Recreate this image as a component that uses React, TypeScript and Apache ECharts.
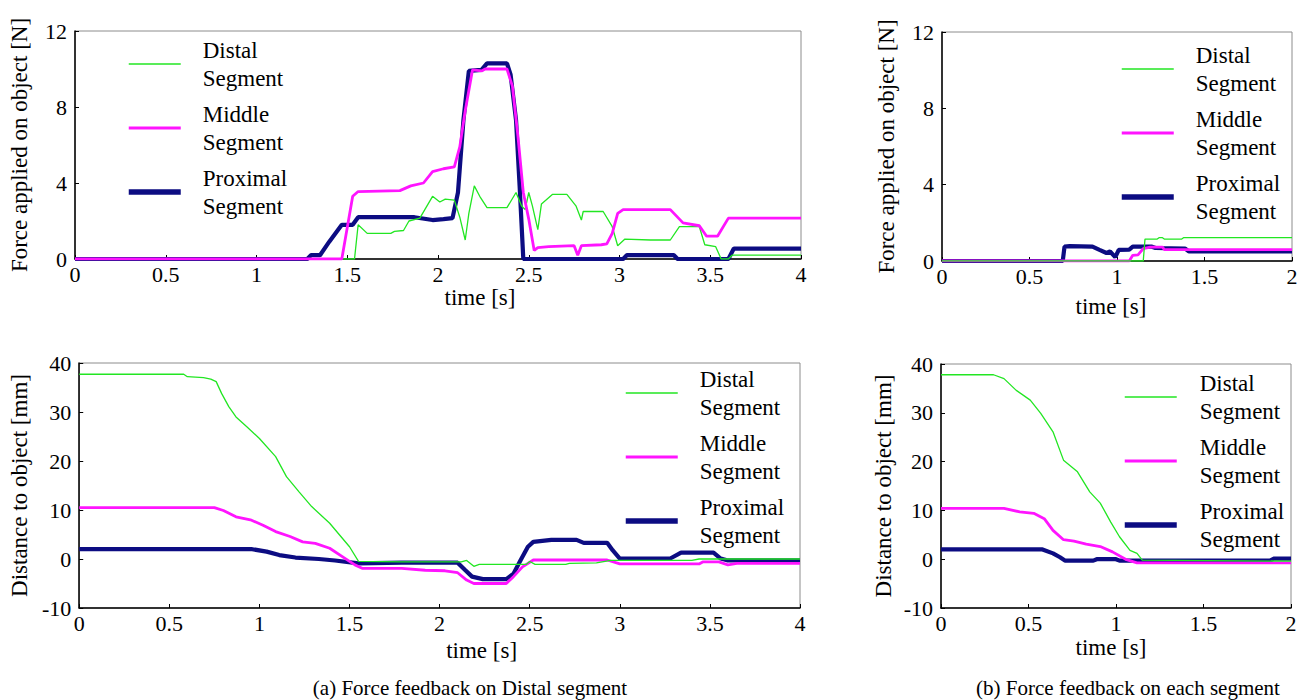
import React, { useEffect, useRef } from "react";
import * as echarts from "echarts";

// ---- Data (time [s], value) ----
const forceA_distal: number[][] = [
  [0, 0], [1.54, 0], [1.56, 1.8], [1.61, 1.35], [1.74, 1.35], [1.76, 1.45], [1.81, 1.5], [1.84, 2.0], [1.9, 2.15],
  [1.97, 3.3], [2.01, 3.0], [2.04, 3.15], [2.09, 3.1], [2.12, 2.2], [2.15, 1.0], [2.17, 2.4], [2.2, 3.85], [2.23, 3.3],
  [2.27, 2.7], [2.38, 2.7], [2.43, 3.5], [2.46, 2.8], [2.48, 2.6], [2.5, 3.5], [2.52, 2.8], [2.55, 1.55], [2.57, 2.9],
  [2.63, 3.4], [2.71, 3.4], [2.76, 2.8], [2.79, 2.05], [2.8, 2.5], [2.91, 2.5], [2.96, 1.7], [2.99, 0.7], [3.03, 1.05],
  [3.17, 1.0], [3.28, 1.0], [3.33, 1.7], [3.44, 1.7], [3.47, 0.75], [3.53, 0.65], [3.56, 0], [3.6, 0], [3.62, 0.2], [4.0, 0.2],
];
const forceA_middle: number[][] = [
  [0, 0], [1.47, 0], [1.53, 3.3], [1.56, 3.55], [1.79, 3.6], [1.85, 3.85], [1.92, 4.0], [1.97, 4.6], [2.03, 4.75],
  [2.09, 4.85], [2.12, 5.9], [2.15, 7.8], [2.19, 9.95], [2.24, 9.9], [2.26, 10.0], [2.38, 10.0], [2.41, 9.1], [2.44, 6.5],
  [2.47, 3.5], [2.5, 2.1], [2.53, 0.45], [2.55, 0.6], [2.61, 0.65], [2.75, 0.7], [2.77, 0.2], [2.79, 0.7], [2.9, 0.75],
  [2.93, 0.8], [2.96, 1.35], [2.99, 2.4], [3.02, 2.6], [3.28, 2.6], [3.35, 1.9], [3.44, 1.75], [3.48, 1.2], [3.54, 1.2],
  [3.6, 2.15], [4.0, 2.15],
];
const forceA_proximal: number[][] = [
  [0, 0], [1.28, 0], [1.3, 0.2], [1.35, 0.2], [1.4, 0.9], [1.47, 1.8], [1.53, 1.8], [1.56, 2.2], [1.87, 2.2], [1.97, 2.05],
  [2.03, 2.1], [2.08, 2.15], [2.11, 3.5], [2.14, 7.3], [2.17, 9.9], [2.24, 9.95], [2.27, 10.3], [2.38, 10.3], [2.4, 9.7],
  [2.43, 7.3], [2.45, 3.8], [2.47, 0], [3.02, 0], [3.04, 0.2], [3.3, 0.2], [3.32, 0], [3.6, 0], [3.63, 0.55], [4.0, 0.55],
];
const forceB_distal: number[][] = [
  [0, 0], [1.15, 0], [1.16, 1.15], [1.23, 1.15], [1.24, 1.22], [1.26, 1.22], [1.27, 1.15], [1.37, 1.15], [1.38, 1.22], [2.0, 1.22],
];
const forceB_middle: number[][] = [
  [0, 0], [1.07, 0], [1.09, 0.3], [1.12, 0.32], [1.15, 0.65], [1.19, 0.73], [1.26, 0.73], [1.27, 0.6], [2.0, 0.6],
];
const forceB_proximal: number[][] = [
  [0, 0], [0.69, 0], [0.7, 0.75], [0.73, 0.78], [0.86, 0.75], [0.9, 0.58], [0.94, 0.42], [0.96, 0.5], [0.99, 0.2],
  [1.01, 0.58], [1.07, 0.6], [1.09, 0.75], [1.2, 0.75], [1.22, 0.68], [1.39, 0.65], [1.41, 0.5], [2.0, 0.5],
];
const distA_distal: number[][] = [
  [0, 37.7], [0.58, 37.7], [0.6, 37.2], [0.69, 37.0], [0.73, 36.7], [0.76, 36.2], [0.79, 33.8], [0.83, 31.1], [0.87, 29.0],
  [0.93, 27.0], [1.0, 24.6], [1.09, 20.9], [1.15, 16.8], [1.22, 13.7], [1.29, 10.7], [1.39, 7.3], [1.5, 2.5], [1.55, -0.5],
  [1.79, -0.6], [2.12, -0.6], [2.15, -0.3], [2.19, -1.5], [2.22, -1.1], [2.48, -1.1], [2.5, -0.5], [2.53, -1.1], [2.7, -1.1],
  [2.72, -0.9], [2.87, -0.8], [2.95, -0.3], [3.4, -0.3], [3.44, 0], [4.0, 0],
];
const distA_middle: number[][] = [
  [0, 10.5], [0.75, 10.5], [0.8, 9.9], [0.87, 8.6], [0.95, 8.0], [1.02, 6.9], [1.09, 5.6], [1.17, 4.6], [1.24, 3.5],
  [1.31, 3.2], [1.39, 2.2], [1.46, 0.5], [1.53, -1.2], [1.57, -1.9], [1.79, -1.9], [1.92, -2.3], [2.03, -2.4], [2.1, -2.8],
  [2.15, -4.3], [2.19, -5.0], [2.37, -5.0], [2.41, -3.6], [2.46, -1.6], [2.52, -0.2], [2.93, -0.2], [3.0, -1.0], [3.44, -1.0],
  [3.46, -0.6], [3.55, -0.6], [3.6, -1.2], [3.65, -0.9], [4.0, -0.9],
];
const distA_proximal: number[][] = [
  [0, 2.0], [0.96, 2.0], [1.04, 1.5], [1.11, 0.8], [1.2, 0.3], [1.33, 0], [1.42, -0.3], [1.55, -0.9], [1.79, -0.75],
  [2.1, -0.75], [2.14, -2.2], [2.18, -3.6], [2.24, -4.1], [2.37, -4.1], [2.41, -3.0], [2.45, -0.2], [2.49, 2.5], [2.52, 3.5],
  [2.62, 3.9], [2.76, 3.9], [2.8, 3.3], [2.93, 3.3], [2.96, 1.8], [3.0, 0.1], [3.28, 0.1], [3.34, 1.3], [3.52, 1.3],
  [3.56, 0.1], [3.6, -0.3], [4.0, -0.3],
];
const distB_distal: number[][] = [
  [0, 37.8], [0.3, 37.8], [0.36, 37.0], [0.43, 34.6], [0.51, 32.6], [0.57, 29.9], [0.64, 26.1], [0.7, 20.3], [0.78, 17.9],
  [0.85, 13.8], [0.91, 11.5], [0.97, 7.6], [1.02, 4.6], [1.08, 1.8], [1.12, 1.2], [1.15, -0.2], [2.0, -0.4],
];
const distB_middle: number[][] = [
  [0, 10.4], [0.36, 10.4], [0.45, 9.7], [0.53, 9.4], [0.59, 8.3], [0.64, 5.9], [0.7, 4.0], [0.76, 3.7], [0.83, 3.1],
  [0.91, 2.6], [0.98, 1.5], [1.06, -0.1], [1.12, -0.75], [2.0, -0.75],
];
const distB_proximal: number[][] = [
  [0, 2.0], [0.58, 2.0], [0.64, 1.2], [0.68, 0.4], [0.71, -0.3], [0.87, -0.3], [0.89, 0], [1.0, 0], [1.02, -0.3],
  [1.88, -0.3], [1.9, 0.1], [2.0, 0.1],
];

const seriesNames = ["Distal\nSegment", "Middle\nSegment", "Proximal\nSegment"];
const xNameText = "time [s]";
const forceLabel = "Force applied on object [N]";
const distLabel = "Distance to object [mm]";
const captionA = "(a) Force feedback on Distal segment";
const captionB = "(b) Force feedback on each segment";

const FONT = "Liberation Serif";
const COLORS = ["#22e622", "#ff14ff", "#0c0c82"];
const WIDTHS = [1.3, 2.8, 4.2];
const LEGEND_WIDTHS = [1.3, 2.8, 5.5];

type Panel = {
  grid: { left: number; top: number; width: number; height: number };
  xMax: number; xGap: number; xPad: number[];
  yMin: number; yMax: number; yInterval: number; yName: string; yGap: number;
  data: number[][][]; z: number[];
  legend: { left: number; top: number; pad: number };
  caption?: { text: string; x: number; y: number };
};

const PANELS: Panel[] = [
  {
    grid: { left: 75, top: 31, width: 726, height: 228 }, xMax: 4, xGap: 26, xPad: [0, 0, 0, 84],
    yMin: 0, yMax: 12, yInterval: 4, yName: forceLabel, yGap: 44,
    data: [forceA_distal, forceA_middle, forceA_proximal], z: [3, 4, 2],
    legend: { left: 126, top: 36, pad: 17 },
  },
  {
    grid: { left: 75, top: 363, width: 725, height: 245 }, xMax: 4, xGap: 31, xPad: [0, 0, 0, 84],
    yMin: -10, yMax: 40, yInterval: 10, yName: distLabel, yGap: 46,
    data: [distA_distal, distA_middle, distA_proximal], z: [4, 3, 2],
    legend: { left: 623, top: 365, pad: 17 },
    caption: { text: captionA, x: 470, y: 688 },
  },
  {
    grid: { left: 942, top: 32, width: 350, height: 229 }, xMax: 2, xGap: 34, xPad: [0, 12, 0, 0],
    yMin: 0, yMax: 12, yInterval: 4, yName: forceLabel, yGap: 44,
    data: [forceB_distal, forceB_middle, forceB_proximal], z: [4, 3, 2],
    legend: { left: 1119, top: 41, pad: 17 },
  },
  {
    grid: { left: 941, top: 364, width: 350, height: 244 }, xMax: 2, xGap: 28, xPad: [0, 10, 0, 0],
    yMin: -10, yMax: 40, yInterval: 10, yName: distLabel, yGap: 46,
    data: [distB_distal, distB_middle, distB_proximal], z: [4, 3, 2],
    legend: { left: 1122, top: 369, pad: 18 },
    caption: { text: captionB, x: 1128, y: 688 },
  },
];

function buildOption(p: Panel) {
  return {
    animation: false,
    textStyle: { fontFamily: FONT },
    grid: { ...p.grid, show: true, borderColor: "#8c8c8c", borderWidth: 1 },
    xAxis: {
      type: "value",
      min: 0,
      max: p.xMax,
      interval: 0.5,
      name: xNameText,
      nameLocation: "middle",
      nameGap: p.xGap,
      nameTextStyle: { fontFamily: FONT, fontSize: 23, color: "#000", padding: p.xPad },
      axisLine: { show: true, onZero: false, lineStyle: { color: "#000", width: 1.5 } },
      axisTick: { show: true, inside: true, length: 4, lineStyle: { color: "#000" } },
      axisLabel: { fontFamily: FONT, fontSize: 22, color: "#000", margin: 4 },
      splitLine: { show: false },
    },
    yAxis: {
      type: "value",
      min: p.yMin,
      max: p.yMax,
      interval: p.yInterval,
      name: p.yName,
      nameLocation: "middle",
      nameGap: p.yGap,
      nameTextStyle: { fontFamily: FONT, fontSize: 23, color: "#000" },
      axisLine: { show: true, onZero: false, lineStyle: { color: "#000", width: 1.5 } },
      axisTick: { show: true, inside: true, length: 4, lineStyle: { color: "#000" } },
      axisLabel: { fontFamily: FONT, fontSize: 22, color: "#000", margin: 8 },
      splitLine: { show: false },
    },
    legend: {
      orient: "vertical",
      left: p.legend.left,
      top: p.legend.top,
      padding: 0,
      itemWidth: 52,
      itemHeight: 14,
      itemGap: 8,
      selectedMode: false,
      itemStyle: { opacity: 0 },
      data: seriesNames.map((n, si) => ({ name: n, lineStyle: { width: LEGEND_WIDTHS[si], color: COLORS[si] } })),
      textStyle: { fontFamily: FONT, fontSize: 23, lineHeight: 28, color: "#000", padding: [0, 0, 0, p.legend.pad] },
    },
    series: p.data.map((d, si) => ({
      type: "line",
      name: seriesNames[si],
      data: d,
      symbol: "none",
      showSymbol: false,
      z: p.z[si],
      lineStyle: { color: COLORS[si], width: WIDTHS[si] },
      itemStyle: { color: COLORS[si] },
    })),
    graphic: p.caption
      ? [{
          type: "text",
          x: p.caption.x,
          y: p.caption.y,
          style: { text: p.caption.text, fontFamily: FONT, fontSize: 21, fill: "#000", align: "center", verticalAlign: "middle" },
        }]
      : [],
  };
}

function PanelChart({ panel }: { panel: Panel }) {
  const ref = useRef<HTMLDivElement>(null);
  useEffect(() => {
    if (!ref.current) return;
    const chart = echarts.init(ref.current, null, { renderer: "svg" });
    chart.setOption(buildOption(panel));
    return () => chart.dispose();
  }, []);
  return <div ref={ref} style={{ position: "absolute", left: 0, top: 0, width: 1308, height: 700 }} />;
}

export default function App() {
  return (
    <div style={{ position: "absolute", left: 0, top: 0, width: 1308, height: 700, background: "#fff" }}>
      {PANELS.map((p, i) => <PanelChart key={i} panel={p} />)}
    </div>
  );
}
